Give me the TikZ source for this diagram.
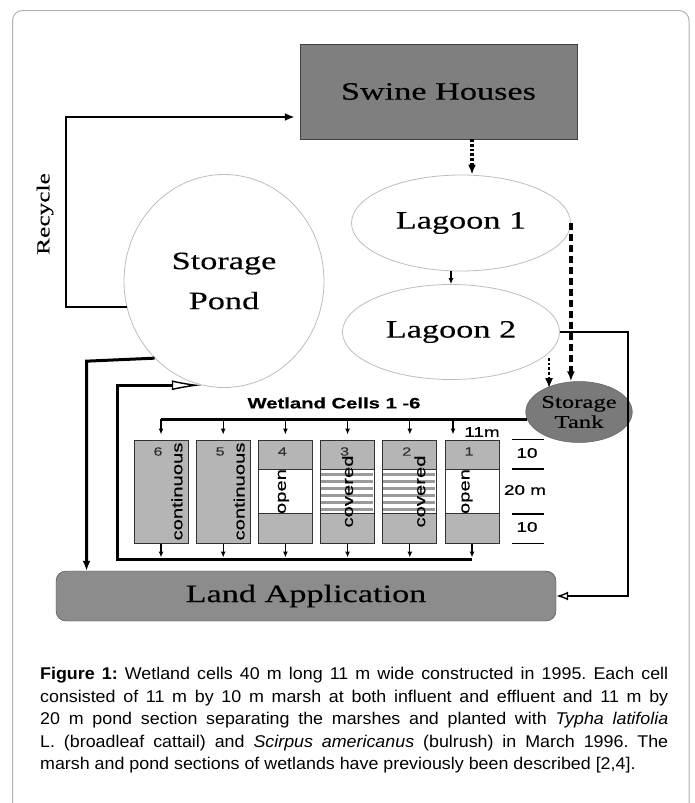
\documentclass[tikz,border=0pt]{standalone}
\usepackage{fontspec}
\setmainfont{Liberation Sans}
\newfontfamily\serifwide[FakeStretch=1.37, FakeBold=0.3]{Liberation Serif}
\newfontfamily\sanswide[FakeStretch=1.35, FakeBold=0.5]{Liberation Sans}
\newfontfamily\capfont[FakeStretch=1.05]{Liberation Sans}
\usepackage{tikz}
\usetikzlibrary{arrows.meta, positioning, calc, shapes.geometric}
\definecolor{housegray}{HTML}{7F7F7F}
\definecolor{landgray}{HTML}{8C8C8C}
\definecolor{tankgray}{HTML}{7A7A7A}
\definecolor{cellgray}{HTML}{B5B5B5}
\definecolor{stripegray}{HTML}{9A9A9A}
\definecolor{rimgray}{HTML}{BDBDBD}

\begin{document}
\frenchspacing
\begin{tikzpicture}[x=1pt, y=-1pt,
    house/.style={draw=black!75, fill=housegray, minimum width=277pt, minimum height=95pt,
                  font=\serifwide\fontsize{25}{30}\selectfont},
    lagoon/.style={ellipse, draw=rimgray, line width=0.8pt, fill=white, inner sep=0pt,
                   align=center, font=\serifwide\fontsize{25}{40}\selectfont},
    tank/.style={ellipse, fill=tankgray, draw=tankgray!80!black, line width=0.5pt, inner sep=0pt,
                 align=center, minimum width=92pt, minimum height=61pt,
                 font=\serifwide\fontsize{18}{20}\selectfont},
    land/.style={draw=black!75, fill=landgray, rounded corners=10pt, minimum width=500pt,
                 minimum height=50pt, font=\serifwide\fontsize{25}{30}\selectfont},
    cell/.style={draw=black!80, line width=1pt, fill=cellgray, minimum width=54pt,
                 minimum height=103pt, inner sep=0pt},
    psec/.style={draw=black!80, line width=1pt, fill=white, minimum width=54pt,
                 minimum height=44pt, inner sep=0pt},
    lbl/.style={font=\sanswide\fontsize{15}{15}\selectfont, inner sep=0pt, rotate=90},
    num/.style={font=\sanswide\fontsize{12}{12}\selectfont, text=black!80, inner sep=0pt},
    dim/.style={font=\sanswide\fontsize{14}{14}\selectfont, inner sep=0pt},
    cpt/.style={font=\capfont\fontsize{17}{22.5}\selectfont, text width=628pt,
                align=justify, inner sep=0pt},
    pipe/.style={line width=2.7pt, -{Latex[length=10pt, width=8pt]}},
    ar/.style={line width=1.3pt, -{Latex[length=6pt, width=5pt]}}
  ]
    \useasboundingbox (0,0) rectangle (695,803);
    \draw[black!30, line width=1pt, rounded corners=10pt] (12.5,803) |- (689,10.5) -- (689,803);

    \node[house] (swine) at (438.5,91.5) {Swine Houses};
    \node[lagoon, minimum width=219pt, minimum height=96pt] (lag1) at (461,223) {Lagoon 1};
    \node[lagoon, minimum width=217pt, minimum height=95pt] (lag2) at (451,332) {Lagoon 2};
    \node[lagoon, minimum width=200pt, minimum height=213pt] (pond) at (224,281) {Storage\\Pond};
    \node[tank] (tank) at (579,412) {Storage\\Tank};
    \node[land] (land) at (306,596) {Land Application};
    \node[font=\serifwide\fontsize{18.5}{20}\selectfont, rotate=90] (recycle) at (45,214) {Recycle};

    % wetland cells, 6 on the left
    \foreach \i in {1,...,6}
      \node[cell] (c\i) at ({161+(6-\i)*62.2}, 491.5) {};
    \foreach \i in {1,...,4}
      \node[psec] (p\i) at (c\i) {};
    \foreach \i in {2,3}
      \foreach \k in {0,...,5}
        \fill[stripegray] ($(p\i.north west)+(1,4+7*\k)$) rectangle ++(52,3);
    \foreach \i in {1,...,6}
      \node[num] (n\i) at ($(c\i.north)+(-3,12)$) {\i};
    \foreach \i/\dx/\txt in {6/16/continuous, 5/16/continuous, 4/-2/open,
                             3/0/covered, 2/10/covered, 1/-5/open}
      \node[lbl] (t\i) at ($(c\i)+(\dx,0)$) {\txt};

    \node[font=\sanswide\bfseries\fontsize{15}{15}\selectfont, inner sep=0pt] (wtitle) at (334,403) {Wetland Cells 1 -6};
    \node[dim] (w11) at (482,432) {11m};
    \node[dim] (d1) at (527,453) {10};
    \node[dim] (d2) at (525,490) {20 m};
    \node[dim] (d3) at (527,527) {10};
    \foreach \a in {c1.north, p1.north, p1.south, c1.south}
      \draw[line width=1.3pt] ($(\a)+(40,0)$) -- ++(32,0);

    % flows
    \draw[pipe, shorten >=5pt] (pond.195) -| (66,117) -- (swine.west |- 66,117);
    \draw[pipe, dotted, line width=3.5pt] (swine.south -| 472,0) -- (lag1.north -| 472,0);
    \draw[ar, line width=2pt] (lag1.south -| 451,0) -- (lag2.north -| 451,0);
    \draw[pipe, line width=3.2pt, dash pattern=on 7pt off 4pt] (lag1.east) -- (lag1.east |- tank.north);
    \draw[pipe, dotted, line width=2.4pt, shorten <=5pt] (lag2.-12) -- (lag2.-12 |- tank.145);
    \draw[line width=2.8pt, -{Latex[open, length=12pt, width=9pt, line width=1.4pt]}]
      (lag2.east) -- ++(68,0) |- (land.east);
    \draw[pipe, line width=3pt] (pond.228) -- ++(-68,3) coordinate (pbend) -- (pbend |- land.north);

    \draw[line width=2.7pt] (tank.188) -- (c6.north |- tank.188);
    \foreach \i in {2,...,6}
      \draw[ar, shorten >=5pt] (c\i.north |- tank.188) -- (c\i.north);
    \draw[ar, shorten >=5pt] ($(c1.north |- tank.188)+(-19,0)$) -- ($(c1.north)+(-19,0)$);

    \coordinate (ret) at (117,559);
    \foreach \i in {1,...,6}
      \draw[ar, shorten >=1.5pt] (c\i.south) -- (c\i.south |- ret);
    \draw[line width=3pt, -{Latex[open, length=30pt, width=10pt, line width=1.4pt]}]
      (c1.south |- ret) -- (ret) |- (pond.258);

    \node[cpt, anchor=north west] (caption) at (40,667)
      {\textbf{Figure 1:} Wetland cells 40 m long 11 m wide constructed in 1995. Each cell\linebreak
       consisted of 11 m by 10 m marsh at both influent and effluent and 11 m by\linebreak
       20 m pond section separating the marshes and planted with \textit{Typha latifolia}\linebreak
       L. (broadleaf cattail) and \textit{Scirpus americanus} (bulrush) in March 1996. The\linebreak
       marsh and pond sections of wetlands have previously been described [2,4].};
  \end{tikzpicture}
\end{document}
